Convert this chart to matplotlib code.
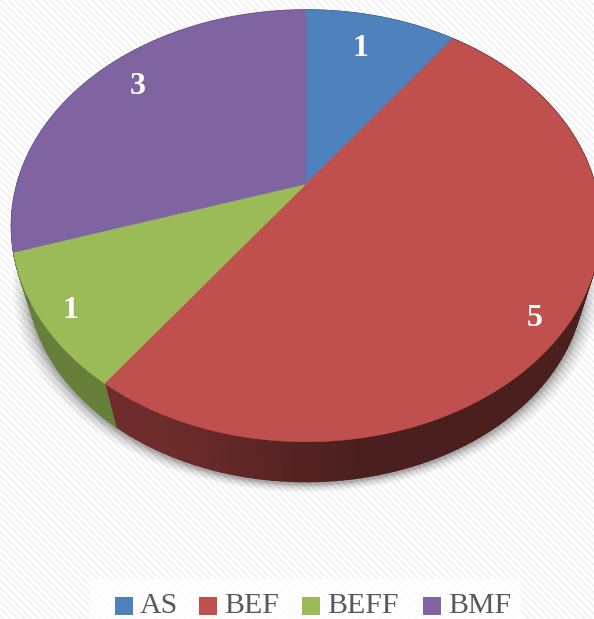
import numpy as np
import matplotlib
matplotlib.use('Agg')
import matplotlib.pyplot as plt
from matplotlib.collections import PolyCollection
from matplotlib.patches import Polygon, Rectangle

categories = ['AS', 'BEF', 'BEFF', 'BMF']
values = [1, 5, 1, 3]
top_colors = ['#4f81bd', '#c0504d', '#9bbb59', '#8064a2']
side_near = ['#3a5f8c', '#6e2c2c', '#66803a', '#5c4876']
side_far = ['#3a5f8c', '#4a1f1e', '#5a7333', '#5c4876']
label_pos = [(360, 48), (535, 318), (70, 311), (138, 87)]
legend_x = [115, 199, 302, 423]

W, H = 594, 619
# pie projection
CX, CY = 306, 184
A, B, K = 289, 207.8, 0.194
VY = 1154
SHRINK = 0.944


def top_rim(theta):
    w = 1 + K * np.cos(theta)
    return CX + A * np.sin(theta) / w, CY - B * np.cos(theta) / w


def low_rim(theta):
    x, y = top_rim(theta)
    return CX + SHRINK * (x - CX), VY + SHRINK * (y - VY)


fig = plt.figure(figsize=(W / 100, H / 100), dpi=100)
ax = fig.add_axes([0, 0, 1, 1])
ax.set_xlim(0, W)
ax.set_ylim(H, 0)
ax.axis('off')

# striped background
yy, xx = np.mgrid[0:H, 0:W]
stripes = ((xx - yy) % 7 < 3).astype(float)
ax.imshow(1 - 0.05 * stripes, cmap='gray', vmin=0, vmax=1, extent=(0, W, H, 0),
          interpolation='bilinear', aspect='auto', zorder=0)

t = np.linspace(0, 2 * np.pi, 361)

# soft shadow under the pie
for grow, alpha in zip([15, 12, 9, 6, 4, 2], [.035, .045, .055, .065, .08, .09]):
    lx, ly = low_rim(t)
    shadow = Polygon(np.c_[CX + (lx - CX) * (1 + grow / 280), ly + grow * 0.55 + 2],
                     closed=True, fc='k', ec='none', alpha=alpha, zorder=1)
    ax.add_patch(shadow)

edges = np.cumsum([0] + values) / sum(values) * 2 * np.pi

# side wall, only front half is seen
for i in range(len(values)):
    th = np.linspace(edges[i], edges[i + 1], 120)
    c0 = np.array(matplotlib.colors.to_rgb(side_near[i]))
    c1 = np.array(matplotlib.colors.to_rgb(side_far[i]))
    quads, cols = [], []
    for a, b in zip(th[:-1], th[1:]):
        x0, y0 = top_rim(a)
        x1, y1 = top_rim(b)
        x2, y2 = low_rim(b)
        x3, y3 = low_rim(a)
        quads.append([(x0, y0), (x1, y1), (x2, y2), (x3, y3)])
        # dark on the right, lighter going to the left
        f = np.clip((CX + 60 - x0) / 200, 0, 1)
        cols.append(c1 + (c0 - c1) * f)
    ax.add_collection(PolyCollection(quads, facecolors=cols, edgecolors=cols, linewidths=1.0, zorder=2))

# top face
for i in range(len(values)):
    th = np.linspace(edges[i], edges[i + 1], 200)
    x, y = top_rim(th)
    ax.add_patch(Polygon(np.c_[np.r_[CX, x], np.r_[CY, y]], closed=True,
                         fc=top_colors[i], ec=top_colors[i], lw=0.3, zorder=3))

for v, (lx, ly) in zip(values, label_pos):
    ax.text(lx, ly, str(v), color='white', fontsize=23, fontweight='bold',
            family='Liberation Serif', ha='center', va='center', zorder=5)

# legend
ax.add_patch(Rectangle((90, 579), 432, 40, fc='white', ec='none', alpha=0.75, zorder=4))
for name, col, lx in zip(categories, top_colors, legend_x):
    ax.add_patch(Rectangle((lx, 597), 18, 18, fc=col, ec='none', zorder=5))
    ax.text(lx + 25, 606, name, color='#595959', fontsize=21.5, family='Liberation Serif',
            ha='left', va='center', zorder=5)

fig.savefig('out.png', dpi=100)
